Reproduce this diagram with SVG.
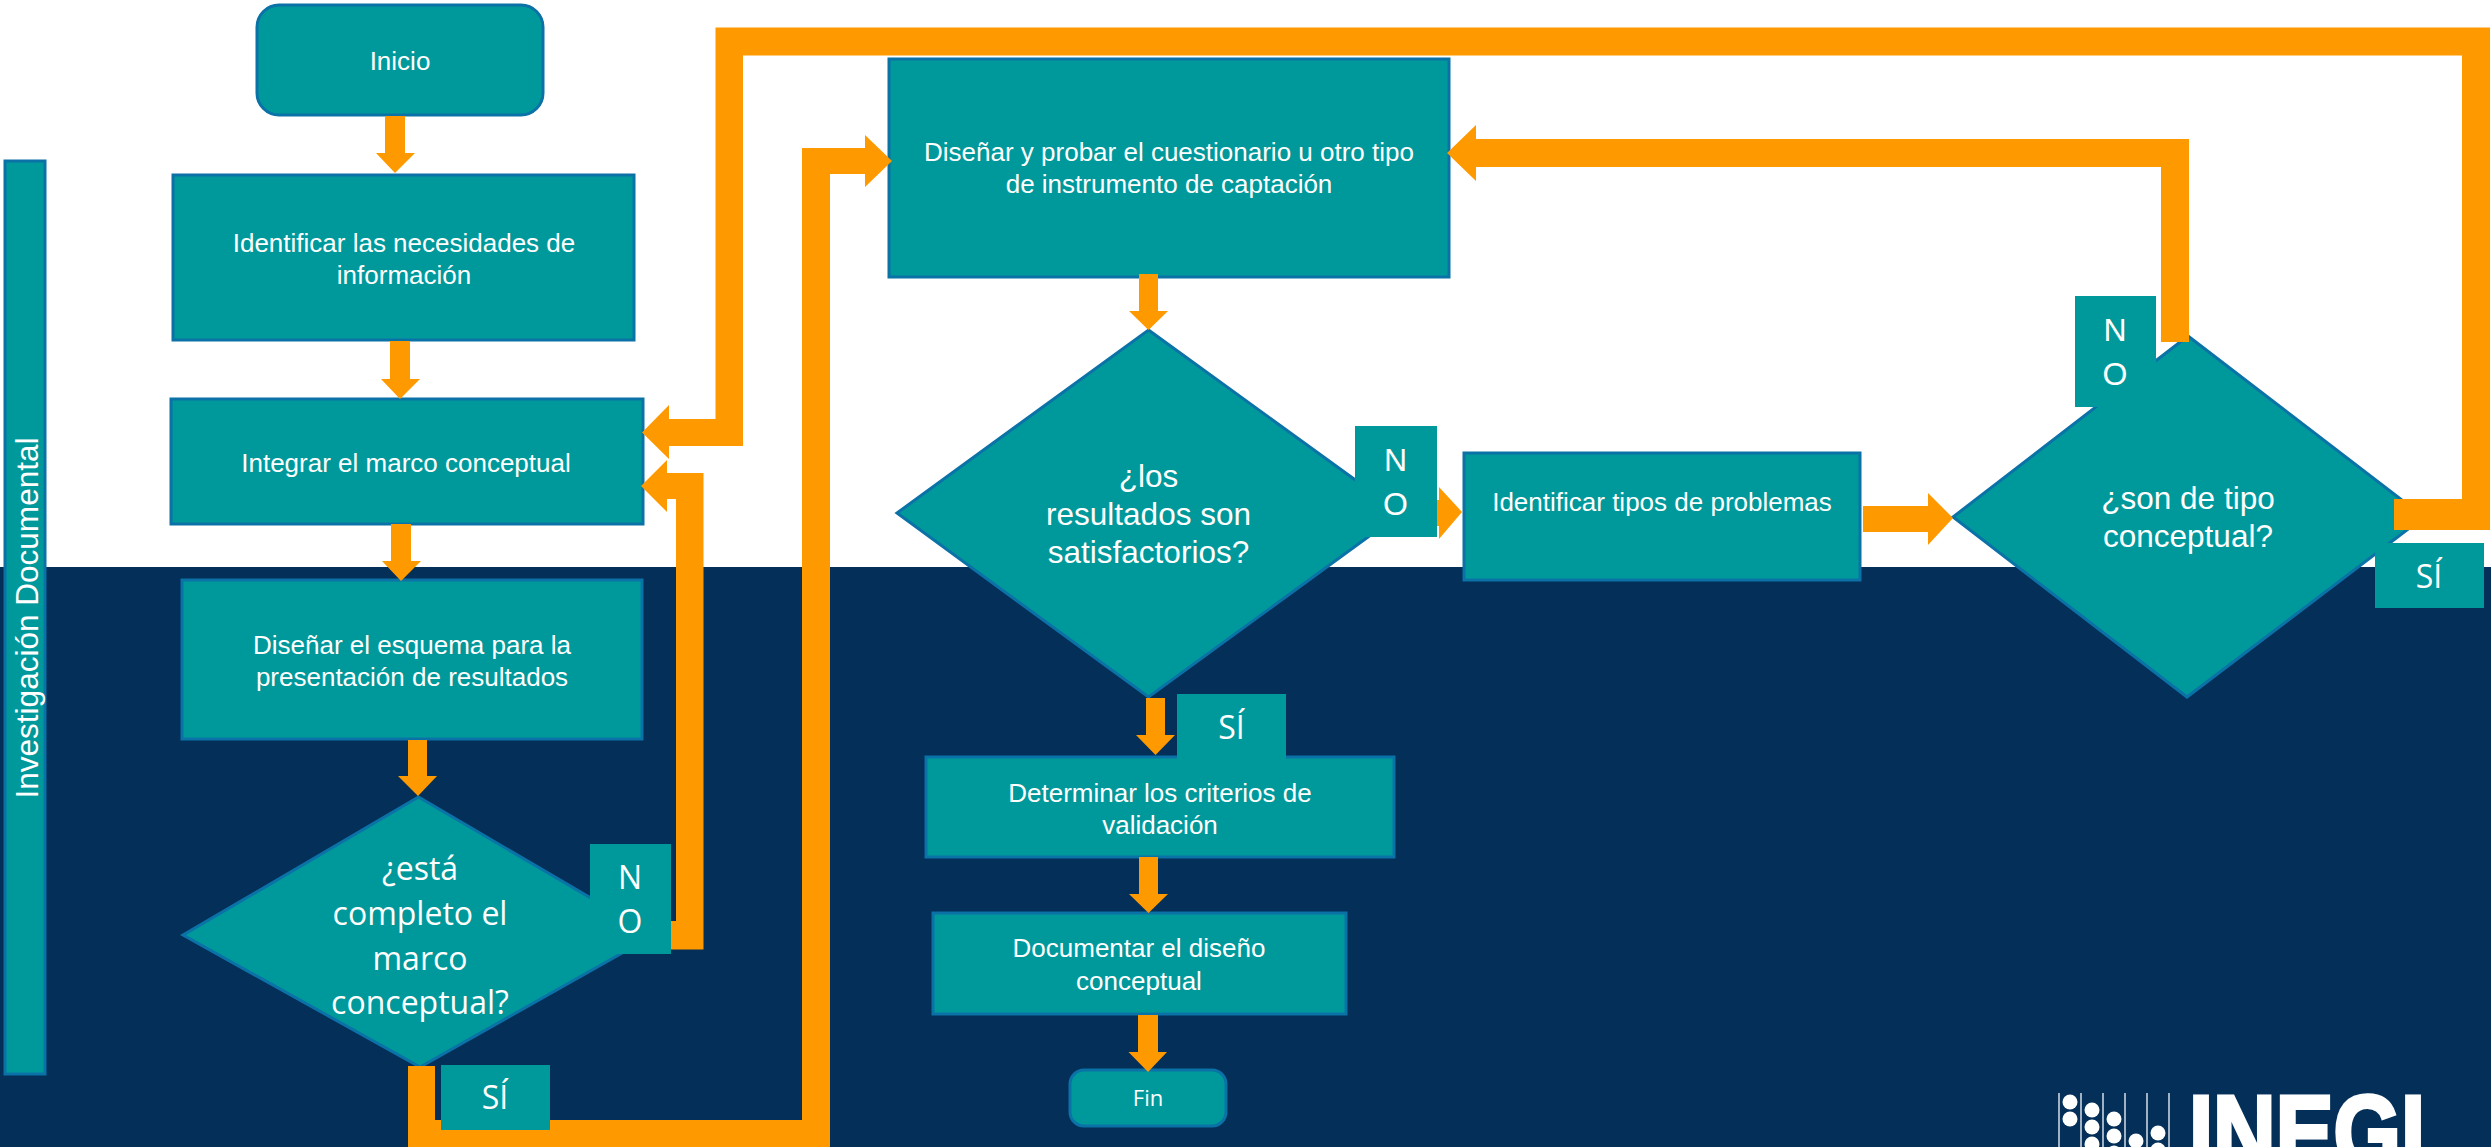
<svg xmlns="http://www.w3.org/2000/svg" width="2491" height="1147" viewBox="0 0 2491 1147">
<style>
.n{fill:#00999b;stroke:#0a72a6;stroke-width:3}
.l{fill:#00999b}
.c{fill:#ff9900}
text{fill:#fff;text-anchor:middle;font-family:"Liberation Sans",Arial,sans-serif}
.t{font-size:26px}
.q{font-size:31.5px}
.o{font-family:"Open Sans","Noto Sans",sans-serif;font-size:32px}
.a{font-size:32px}
</style>
<rect width="2491" height="1147" fill="#fff"/>
<rect y="567" width="2491" height="580" fill="#032f59"/>
<g id="nodes">
<g id="swimlane"><rect class="n" x="5" y="161" width="40" height="913"/><text x="38" y="618" transform="rotate(-90 38 618)" font-size="31.5" textLength="361" lengthAdjust="spacingAndGlyphs">Investigación Documental</text></g>
<g id="inicio"><rect class="n" x="257" y="5" width="286" height="110" rx="22"/><text class="t" x="400" y="70">Inicio</text></g>
<g id="necesidades"><rect class="n" x="173" y="175" width="461" height="165"/><text class="t" x="404" y="252">Identificar las necesidades de</text><text class="t" x="404" y="284">información</text></g>
<g id="marco"><rect class="n" x="171" y="399" width="472" height="125"/><text class="t" x="406" y="472">Integrar el marco conceptual</text></g>
<g id="esquema"><rect class="n" x="182" y="580" width="460" height="159"/><text class="t" x="412" y="654">Diseñar el esquema para la</text><text class="t" x="412" y="686">presentación de resultados</text></g>
<g id="decision-marco"><polygon class="n" points="418.500,797 654,935 420,1067 183,935" transform="translate(0 0)"/><text class="o" x="420" y="880">¿está</text><text class="o" x="420" y="925">completo el</text><text class="o" x="420" y="970">marco</text><text class="o" x="420" y="1014">conceptual?</text></g>
<g id="cuestionario"><rect class="n" x="889" y="59" width="560" height="218"/><text class="t" x="1169" y="161">Diseñar y probar el cuestionario u otro tipo</text><text class="t" x="1169" y="193">de instrumento de captación</text></g>
<g id="decision-resultados"><polygon class="n" points="1148.500,330 1401,513 1148.500,697 897,513"/><text class="q" x="1148.500" y="487">¿los</text><text class="q" x="1148.500" y="525">resultados son</text><text class="q" x="1148.500" y="563">satisfactorios?</text></g>
<g id="problemas"><rect class="n" x="1464" y="453" width="396" height="127"/><text class="t" x="1662" y="511">Identificar tipos de problemas</text></g>
<g id="decision-tipo"><polygon class="n" points="2188,336 2424,517 2187,697 1953,517"/><text class="q" x="2188" y="509">¿son de tipo</text><text class="q" x="2188" y="547">conceptual?</text></g>
<g id="criterios"><rect class="n" x="926" y="757" width="468" height="100"/><text class="t" x="1160" y="802">Determinar los criterios de</text><text class="t" x="1160" y="834">validación</text></g>
<g id="documentar"><rect class="n" x="933" y="913" width="413" height="101"/><text class="t" x="1139" y="957">Documentar el diseño</text><text class="t" x="1139" y="990">conceptual</text></g>
<g id="fin"><rect class="n" x="1070" y="1070" width="156" height="56" rx="14"/><text class="o" style="font-size:22px" x="1148" y="1106">Fin</text></g>
</g>
<g id="connectors">
<polygon class="c" points="385,116 405,116 405,153 415,153 395,173 376,153 385,153"/>
<polygon class="c" points="390,341 410,341 410,379 420,379 400,399 381,379 390,379"/>
<polygon class="c" points="391,524 411,524 411,561 421,561 401,581 382,561 391,561"/>
<polygon class="c" points="408,740 427,740 427,776 437,776 418,796 398,776 408,776"/>
<polygon class="c" points="641,486 667,460 667,473 703.500,473 703.500,949.500 665,949.500 665,921 676,921 676,499 667,499 667,512"/>
<polygon class="c" points="642,432.500 669,405 669,419 715.500,419 715.500,27.500 2490,27.500 2490,530 2394,530 2394,499 2462,499 2462,55.500 743,55.500 743,446 669,446 669,459"/>
<polygon class="c" points="408,1066 435,1066 435,1120 802,1120 802,148 865,148 865,135 892,161 865,187 865,174 830,174 830,1147 408,1147"/>
<polygon class="c" points="1447,153 1476,125 1476,139 2189,139 2189,342 2161,342 2161,167 1476,167 1476,181"/>
<polygon class="c" points="1139,274 1158,274 1158,311 1168,311 1148.500,330 1129,311 1139,311"/>
<polygon class="c" points="1146,698 1165,698 1165,735 1175,735 1155.500,755 1136,735 1146,735"/>
<polygon class="c" points="1139,857 1158,857 1158,894 1168,894 1148.500,913 1129,894 1139,894"/>
<polygon class="c" points="1138,1015 1158,1015 1158,1052 1167,1052 1148,1072 1128.500,1052 1138,1052"/>
<polygon class="c" points="1430,500 1439,500 1439,487 1462,512 1439,539 1439,526 1430,526"/>
<polygon class="c" points="1863,506 1928,506 1928,493 1953,518 1928,545 1928,532 1863,532"/>
</g>
<g id="label-no-1"><rect class="l" x="590" y="844" width="81" height="110"/><text class="o" x="630" y="889">N</text><text class="o" x="630" y="933">O</text></g>
<g id="label-si-1"><rect class="l" x="441" y="1065" width="109" height="65"/><text class="o" x="495" y="1109">SÍ</text></g>
<g id="label-no-2"><rect class="l" x="1355" y="426" width="82" height="111"/><text class="a" x="1395.500" y="471">N</text><text class="a" x="1395.500" y="515">O</text></g>
<g id="label-si-2"><rect class="l" x="1177" y="694" width="109" height="65"/><text class="o" x="1231.500" y="739">SÍ</text></g>
<g id="label-no-3"><rect class="l" x="2075" y="296" width="81" height="111"/><text class="a" x="2115" y="341">N</text><text class="a" x="2115" y="385">O</text></g>
<g id="label-si-3"><rect class="l" x="2375" y="543" width="109" height="65"/><text class="o" x="2429" y="588">SÍ</text></g>
<g id="logo" fill="#fff">
<path d="M2059 1093V1147M2081 1093V1147M2103 1093V1147M2125 1093V1147M2147 1093V1147M2169 1093V1147" stroke="#d5dde6" stroke-width="1.500" fill="none"/>
<circle cx="2070" cy="1102" r="7.500"/><circle cx="2070" cy="1119" r="7.500"/>
<circle cx="2092" cy="1110" r="7.500"/><circle cx="2092" cy="1127" r="7.500"/><circle cx="2092" cy="1144" r="7.500"/>
<circle cx="2114" cy="1119" r="7.500"/><circle cx="2114" cy="1136" r="7.500"/><circle cx="2114" cy="1153" r="7.500"/>
<circle cx="2136" cy="1141" r="7.500"/>
<circle cx="2158" cy="1133" r="7.500"/><circle cx="2158" cy="1150" r="7.500"/>
<text x="2307" y="1168" font-size="104" font-weight="700" stroke="#fff" stroke-width="4" textLength="236" lengthAdjust="spacingAndGlyphs">INEGI</text>
</g>
</svg>
